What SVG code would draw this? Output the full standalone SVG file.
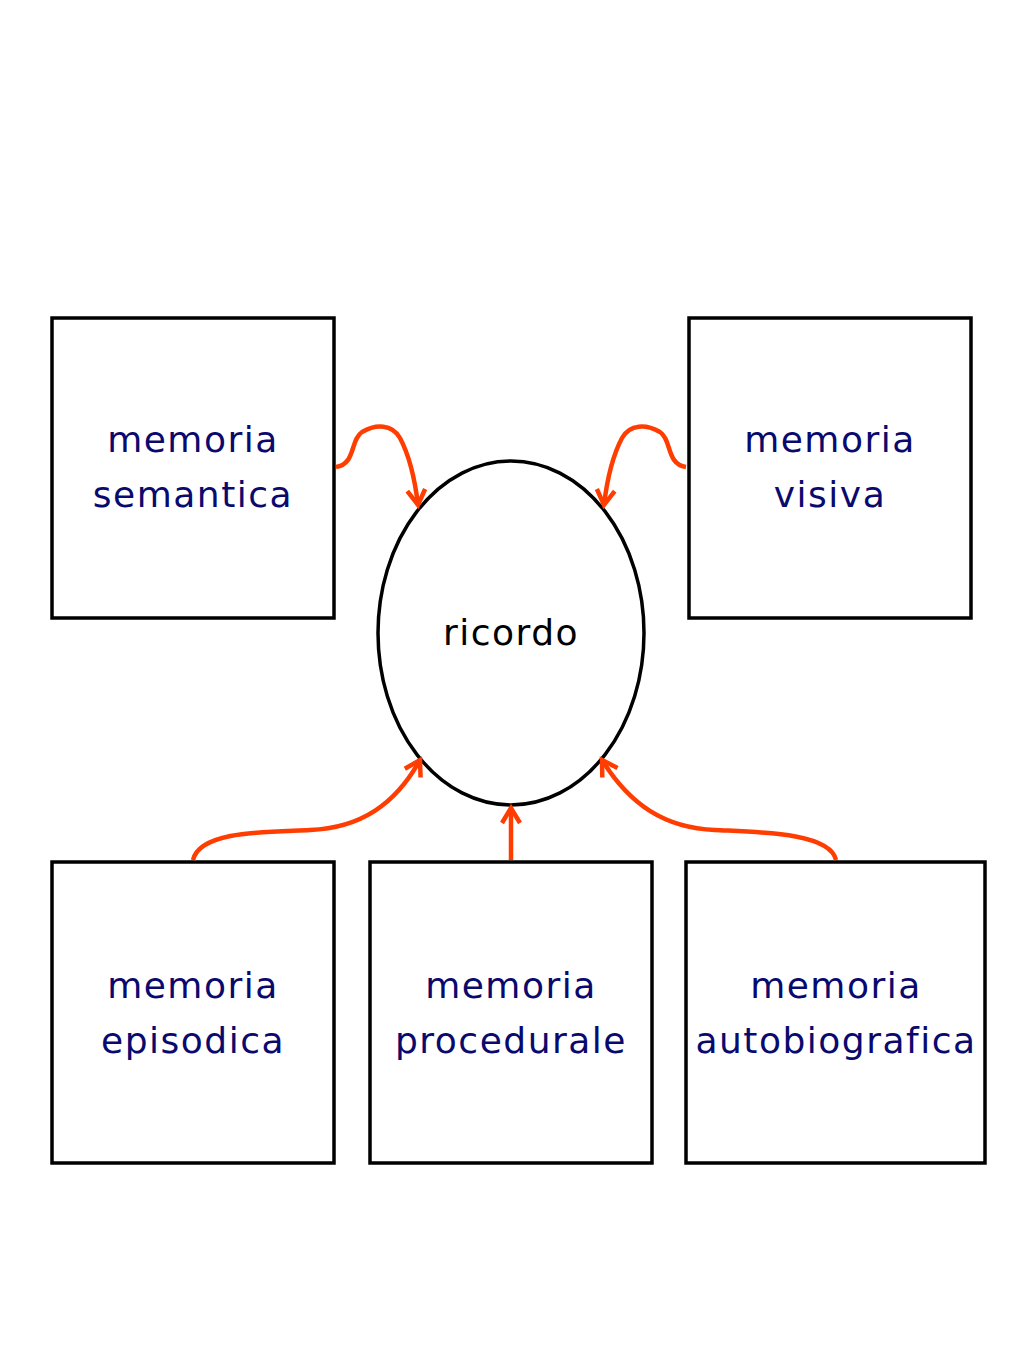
<svg xmlns="http://www.w3.org/2000/svg" width="1024" height="1365" viewBox="0 0 1024 1365">
<style>
.box{fill:#fff;stroke:#000;stroke-width:3.5}
.lbl{font-family:"DejaVu Sans",sans-serif;font-size:36px;fill:#0a0a6e;text-anchor:middle;letter-spacing:1.5px}
.con{fill:none;stroke:#ff3d00;stroke-width:4.5}
</style>
<defs>
<marker id="ah" markerWidth="24" markerHeight="24" refX="17" refY="10" orient="auto" markerUnits="userSpaceOnUse" viewBox="0 0 24 20">
<path d="M2,1 L17,10 L2,19" fill="none" stroke="#ff3d00" stroke-width="4.5" stroke-linejoin="miter"/>
</marker>
</defs>
<rect width="1024" height="1365" fill="#fff"/>
<g id="ricordo"><ellipse cx="511" cy="633" rx="133" ry="172" fill="#fff" stroke="#000" stroke-width="3.5"/>
<text x="511" y="645" font-family="DejaVu Sans,sans-serif" font-size="36" letter-spacing="1.5" text-anchor="middle" fill="#000">ricordo</text></g>
<g id="semantica"><rect class="box" x="52" y="318" width="282" height="300"/><text class="lbl" x="193" y="452">memoria</text><text class="lbl" x="193" y="507">semantica</text></g>
<g id="visiva"><rect class="box" x="689" y="318" width="282" height="300"/><text class="lbl" x="830" y="452">memoria</text><text class="lbl" x="830" y="507">visiva</text></g>
<g id="episodica"><rect class="box" x="52" y="862" width="282" height="301"/><text class="lbl" x="193" y="998">memoria</text><text class="lbl" x="193" y="1053">episodica</text></g>
<g id="procedurale"><rect class="box" x="370" y="862" width="282" height="301"/><text class="lbl" x="511" y="998">memoria</text><text class="lbl" x="511" y="1053">procedurale</text></g>
<g id="autobiografica"><rect class="box" x="686" y="862" width="299" height="301"/><text class="lbl" x="836" y="998">memoria</text><text class="lbl" x="836" y="1053">autobiografica</text></g>
<g id="connectors">
<path class="con" marker-end="url(#ah)" d="M336,467 C356,464 350,440 362,432 C376,424 392,424 400,438 C409,455 415,480 418,505"/>
<path class="con" marker-end="url(#ah)" d="M686,467 C666,464 672,440 660,432 C646,424 630,424 622,438 C613,455 607,480 604,505"/>
<path class="con" marker-end="url(#ah)" d="M193,860 C200,830 270,832 310,830 C360,828 395,805 420,760"/>
<path class="con" marker-end="url(#ah)" d="M836,860 C830,832 755,832 715,830 C665,828 630,805 602,760"/>
<path class="con" marker-end="url(#ah)" d="M511,860 L511,808"/>
</g>
</svg>
